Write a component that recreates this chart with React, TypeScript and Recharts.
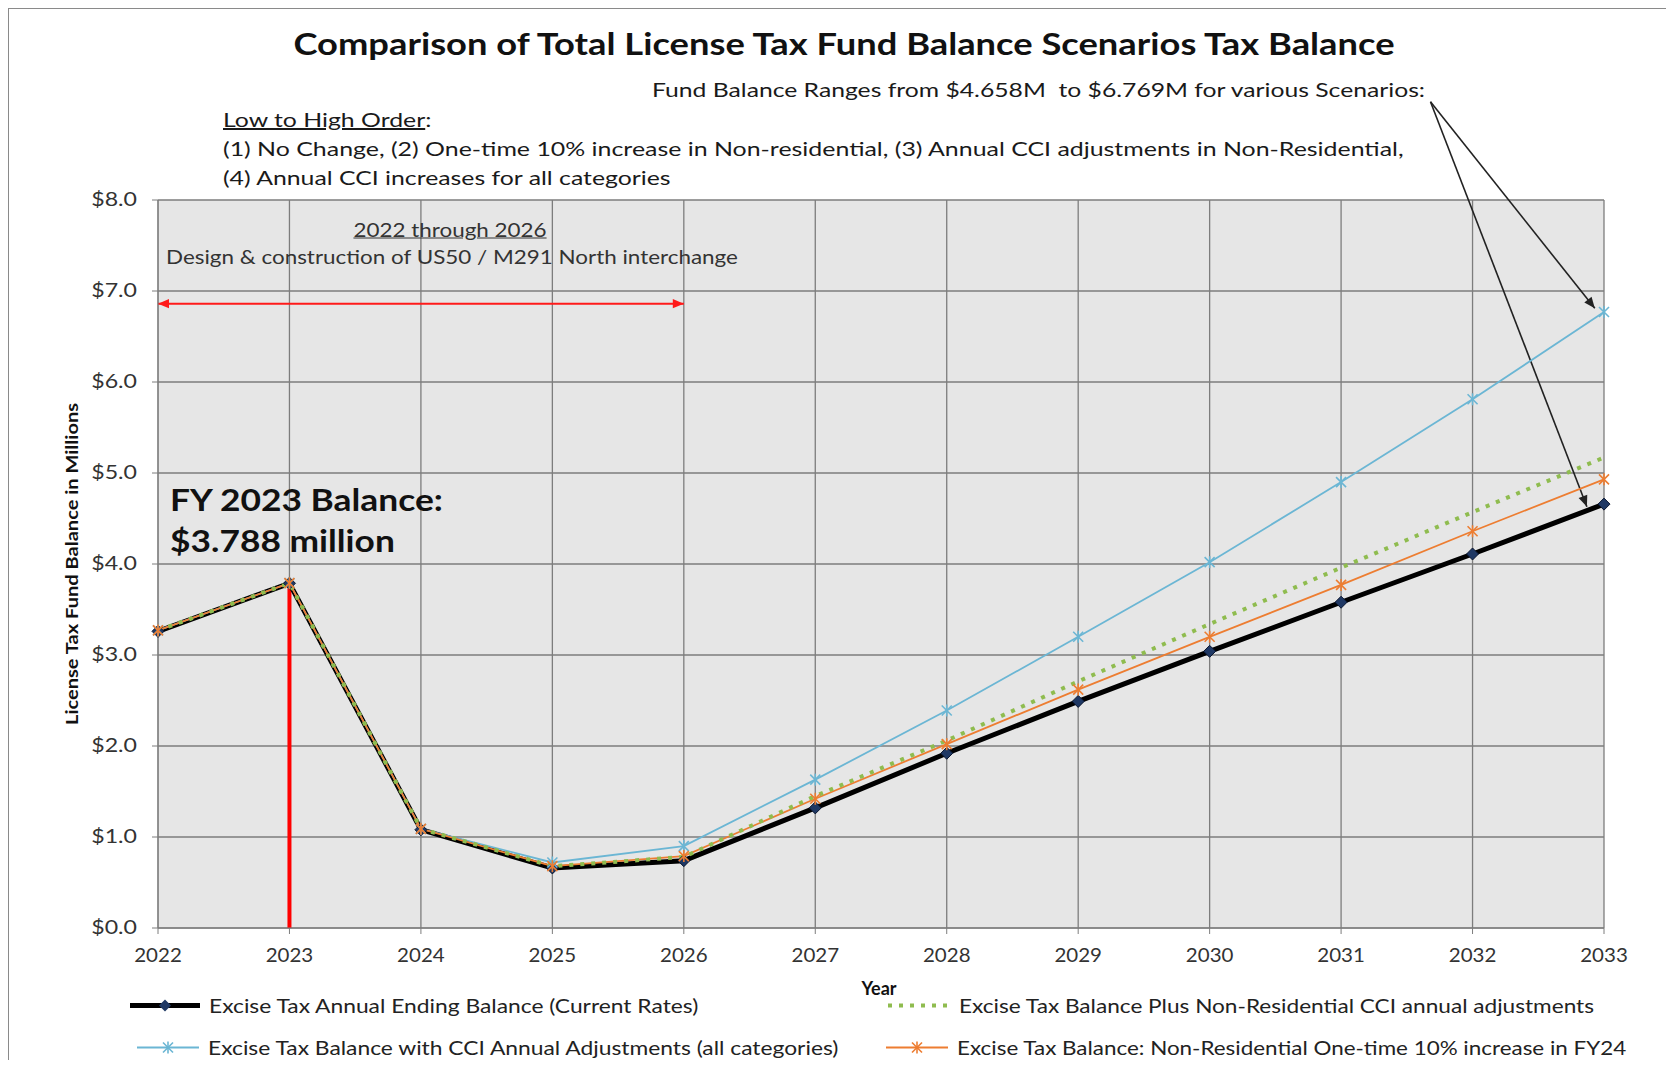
import React from "react";
import {
    LineChart,
    Line,
    XAxis,
    YAxis,
    CartesianGrid,
    Legend,
    ReferenceLine,
} from "recharts";

const FONT = "Lato, 'Open Sans', sans-serif";

const years = [2022, 2023, 2024, 2025, 2026, 2027, 2028, 2029, 2030, 2031, 2032, 2033];
const currentRates = [3.26, 3.788, 1.08, 0.66, 0.74, 1.32, 1.92, 2.49, 3.04, 3.58, 4.11, 4.658];
const cciAllCategories = [3.27, 3.79, 1.09, 0.72, 0.9, 1.63, 2.39, 3.2, 4.02, 4.9, 5.81, 6.769];
const nonResCci = [3.27, 3.79, 1.09, 0.68, 0.78, 1.45, 2.06, 2.71, 3.34, 3.96, 4.57, 5.17];
const oneTime10 = [3.27, 3.79, 1.09, 0.68, 0.79, 1.42, 2.02, 2.62, 3.2, 3.77, 4.36, 4.93];
const yTicks = [0, 1, 2, 3, 4, 5, 6, 7, 8];

const data = years.map((year, i) => ({
    year,
    current: currentRates[i],
    cciAll: cciAllCategories[i],
    nonRes: nonResCci[i],
    oneTime: oneTime10[i],
}));

const BLACK = "#000000";
const NAVY = "#1f3864";
const BLUE = "#6bb6d4";
const GREEN = "#8fbc4f";
const ORANGE = "#ed7d31";

const Diamond = (p: any) => {
    const { cx, cy, index } = p;
    if (cx == null || cy == null) return <g key={`dm-${index}`} />;
    const s = 6;
    return (
        <polygon
            key={`dm-${index}`}
            points={`${cx},${cy - s} ${cx + s},${cy} ${cx},${cy + s} ${cx - s},${cy}`}
            fill={NAVY}
            stroke="#0b1730"
            strokeWidth={1}
        />
    );
};

const makeStar = (color: string, withBar: boolean) => (p: any) => {
    const { cx, cy, index } = p;
    if (cx == null || cy == null) return <g key={`st-${index}`} />;
    const s = 5;
    return (
        <g key={`st-${index}`} stroke={color} strokeWidth={1.6}>
            <line x1={cx - s} y1={cy - s} x2={cx + s} y2={cy + s} />
            <line x1={cx - s} y1={cy + s} x2={cx + s} y2={cy - s} />
            {withBar && <line x1={cx} y1={cy - s - 1} x2={cx} y2={cy + s + 1} />}
        </g>
    );
};

const makeArrow = (color: string, width: number, head: number, both: boolean) => (p: any) => {
    const { x1, y1, x2, y2 } = p;
    if ([x1, y1, x2, y2].some((v) => v == null || Number.isNaN(v))) return <g />;
    const ang = Math.atan2(y2 - y1, x2 - x1);
    const tri = (x: number, y: number, a: number) => {
        const bx = x - head * Math.cos(a);
        const by = y - head * Math.sin(a);
        const w = head * 0.42;
        const px = -Math.sin(a) * w;
        const py = Math.cos(a) * w;
        return (
            <polygon
                points={`${x},${y} ${bx + px},${by + py} ${bx - px},${by - py}`}
                fill={color}
                stroke="none"
            />
        );
    };
    return (
        <g>
            <line x1={x1} y1={y1} x2={x2} y2={y2} stroke={color} strokeWidth={width} />
            {tri(x2, y2, ang)}
            {both && tri(x1, y1, ang + Math.PI)}
        </g>
    );
};

// the reference text looks horizontally stretched, so ticks get a small scaleX
const XTick = (p: any) => {
    const { x, y, payload } = p;
    return (
        <g transform={`translate(${x},${y}) scale(1.08,1)`}>
            <text x={0} y={0} dy={14} textAnchor="middle" fill="#333" fontSize={19} fontFamily={FONT}>
                {payload.value}
            </text>
        </g>
    );
};

const YTick = (p: any) => {
    const { x, y, payload } = p;
    return (
        <g transform={`translate(${x},${y}) scale(1.22,1)`}>
            <text x={0} y={0} dy={6} textAnchor="end" fill="#333" fontSize={19} fontFamily={FONT}>
                {`$${Number(payload.value).toFixed(1)}`}
            </text>
        </g>
    );
};

const YLabel = (props: any) => {
    const vb = props.viewBox || {};
    const cy = (vb.y ?? 0) + (vb.height ?? 0) / 2;
    const x = 63;
    return (
        <text
            x={x}
            y={cy}
            transform={`rotate(-90, ${x}, ${cy})`}
            textAnchor="middle"
            dominantBaseline="central"
            fontFamily={FONT}
            fontWeight="bold"
            fontSize={17}
            textLength={322}
            lengthAdjust="spacingAndGlyphs"
            fill="#111"
        >
            License Tax Fund Balance in Millions
        </text>
    );
};

const YearLabel = (props: any) => {
    const vb = props.viewBox || {};
    const cx = (vb.x ?? 0) + (vb.width ?? 0) / 2 - 2;
    return (
        <text
            x={cx}
            y={980}
            textAnchor="middle"
            dominantBaseline="central"
            fontFamily={FONT}
            fontWeight="bold"
            fontSize={18}
            fill="#111"
        >
            Year
        </text>
    );
};

const legendItems = [
    { label: "Excise Tax Annual Ending Balance (Current Rates)", left: 122, top: 37, kind: "black", k: 1.2 },
    { label: "Excise Tax Balance Plus Non-Residential CCI annual adjustments", left: 878, top: 37, kind: "green", k: 1.19 },
    { label: "Excise Tax Balance with CCI Annual Adjustments (all categories)", left: 129, top: 79, kind: "blue", k: 1.2 },
    { label: "Excise Tax Balance: Non-Residential One-time 10% increase in FY24", left: 878, top: 79, kind: "orange", k: 1.18 },
];

const LegendSample = ({ kind }: { kind: string }) => {
    if (kind === "black") {
        return (
            <svg width={70} height={14}>
                <line x1={0} y1={7} x2={70} y2={7} stroke={BLACK} strokeWidth={5} />
                <polygon points="35,1 41,7 35,13 29,7" fill={NAVY} />
            </svg>
        );
    }
    if (kind === "green") {
        return (
            <svg width={64} height={14}>
                <line x1={2} y1={7} x2={64} y2={7} stroke={GREEN} strokeWidth={4} strokeDasharray="4 7" />
            </svg>
        );
    }
    const color = kind === "blue" ? BLUE : ORANGE;
    return (
        <svg width={62} height={14}>
            <line x1={0} y1={7} x2={62} y2={7} stroke={color} strokeWidth={1.8} />
            <g stroke={color} strokeWidth={1.6}>
                <line x1={26} y1={2} x2={36} y2={12} />
                <line x1={26} y1={12} x2={36} y2={2} />
                <line x1={31} y1={1} x2={31} y2={13} />
            </g>
        </svg>
    );
};

const LegendContent = () => (
    <div style={{ position: "relative", width: 1658, height: 90, fontFamily: FONT, fontSize: 19, color: "#222" }}>
        {legendItems.map((it) => (
            <div
                key={it.label}
                style={{
                    position: "absolute",
                    left: it.left,
                    top: it.top,
                    transform: "translateY(-50%)",
                    display: "flex",
                    alignItems: "center",
                    gap: 9,
                    whiteSpace: "nowrap",
                }}
            >
                <LegendSample kind={it.kind} />
                <span style={{ display: "inline-block", transform: `scaleX(${it.k})`, transformOrigin: "left center" }}>
                    {it.label}
                </span>
            </div>
        ))}
    </div>
);

const textAt = (left: number, top: number, k: number, centered = false): React.CSSProperties => ({
    position: "absolute",
    left,
    top,
    fontFamily: FONT,
    color: "#1a1a1a",
    whiteSpace: "nowrap",
    lineHeight: 1,
    transform: centered ? `translate(-50%, -50%) scaleX(${k})` : `translateY(-50%) scaleX(${k})`,
    transformOrigin: centered ? "center center" : "left center",
});

const App = () => {
    return (
        <div
            style={{
                position: "relative",
                width: 1658,
                height: 1052,
                background: "#fff",
                borderTop: "1px solid #8a8a8a",
                borderLeft: "1px solid #8a8a8a",
                boxSizing: "border-box",
            }}
        >
            <LineChart
                width={1658}
                height={1052}
                data={data}
                margin={{ top: 192, right: 62, left: 0, bottom: 2 }}
                style={{ position: "absolute", left: -1, top: -1 }}
            >
                <CartesianGrid stroke="#7d7d7d" strokeWidth={1.3} fill="#e6e6e6" fillOpacity={1} />
                <XAxis
                    type="number"
                    dataKey="year"
                    domain={[2022, 2033]}
                    ticks={years}
                    interval={0}
                    height={40}
                    tickSize={6}
                    tickMargin={14}
                    stroke="#7d7d7d"
                    tick={<XTick />}
                    label={<YearLabel />}
                />
                <YAxis
                    domain={[0, 8]}
                    ticks={yTicks}
                    width={150}
                    tickSize={6}
                    tickMargin={15}
                    stroke="#7d7d7d"
                    tick={<YTick />}
                    label={<YLabel />}
                />
                <ReferenceLine
                    segment={[{ x: 2023, y: 0 }, { x: 2023, y: 3.788 }]}
                    stroke="#ff0000"
                    strokeWidth={4}
                />
                <ReferenceLine
                    segment={[{ x: 2022, y: 6.86 }, { x: 2026, y: 6.86 }]}
                    shape={makeArrow("#ff1a1a", 2, 11, true)}
                />
                <ReferenceLine
                    segment={[{ x: 2031.68, y: 9.08 }, { x: 2032.93, y: 6.81 }]}
                    ifOverflow="visible"
                    shape={makeArrow("#222", 1.6, 11, false)}
                />
                <ReferenceLine
                    segment={[{ x: 2031.68, y: 9.08 }, { x: 2032.87, y: 4.63 }]}
                    ifOverflow="visible"
                    shape={makeArrow("#222", 1.6, 11, false)}
                />
                <Line
                    dataKey="current"
                    name="Excise Tax Annual Ending Balance (Current Rates)"
                    stroke={BLACK}
                    strokeWidth={5}
                    dot={Diamond}
                    isAnimationActive={false}
                />
                <Line
                    dataKey="cciAll"
                    name="Excise Tax Balance with CCI Annual Adjustments (all categories)"
                    stroke={BLUE}
                    strokeWidth={1.8}
                    dot={makeStar(BLUE, true)}
                    isAnimationActive={false}
                />
                <Line
                    dataKey="oneTime"
                    name="Excise Tax Balance: Non-Residential One-time 10% increase in FY24"
                    stroke={ORANGE}
                    strokeWidth={1.8}
                    dot={makeStar(ORANGE, true)}
                    isAnimationActive={false}
                />
                <Line
                    dataKey="nonRes"
                    name="Excise Tax Balance Plus Non-Residential CCI annual adjustments"
                    stroke={GREEN}
                    strokeWidth={4}
                    strokeDasharray="4 7"
                    dot={false}
                    isAnimationActive={false}
                />
                <Legend
                    verticalAlign="bottom"
                    content={<LegendContent />}
                    wrapperStyle={{ left: 0, width: 1658, height: 90 }}
                />
            </LineChart>

            <div style={{ ...textAt(835, 34, 1.21, true), fontSize: 30, fontWeight: "bold", color: "#111" }}>
                Comparison of Total License Tax Fund Balance Scenarios Tax Balance
            </div>
            <div style={{ ...textAt(643, 80, 1.235), fontSize: 20 }}>
                Fund Balance Ranges from $4.658M&nbsp; to $6.769M for various Scenarios:
            </div>
            <div style={{ ...textAt(214, 110, 1.24), fontSize: 20 }}>
                <span style={{ textDecoration: "underline" }}>Low to High Order</span>:
            </div>
            <div style={{ ...textAt(214, 139, 1.245), fontSize: 20 }}>
                (1) No Change, (2) One-time 10% increase in Non-residential, (3) Annual CCI adjustments in Non-Residential,
            </div>
            <div style={{ ...textAt(214, 168, 1.24), fontSize: 20 }}>
                (4) Annual CCI increases for all categories
            </div>
            <div style={{ ...textAt(441, 220, 1.18, true), fontSize: 19, textDecoration: "underline", color: "#333" }}>
                2022 through 2026
            </div>
            <div style={{ ...textAt(157, 247, 1.18), fontSize: 19, color: "#333" }}>
                Design &amp; construction of US50 / M291 North interchange
            </div>
            <div style={{ ...textAt(161, 490, 1.14), fontSize: 31, fontWeight: "bold", color: "#111" }}>
                FY 2023 Balance:
            </div>
            <div style={{ ...textAt(161, 531, 1.14), fontSize: 31, fontWeight: "bold", color: "#111" }}>
                $3.788 million
            </div>
        </div>
    );
};

export default App;
